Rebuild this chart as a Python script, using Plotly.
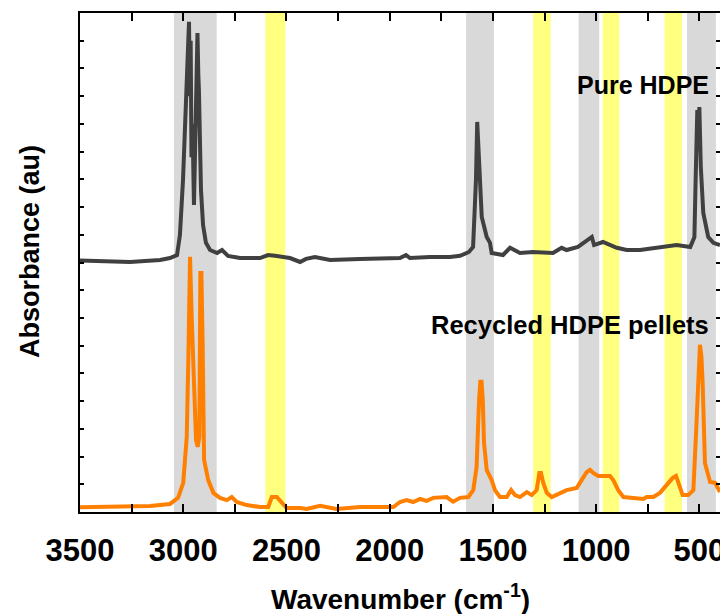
import plotly.graph_objects as go

# ---- data ----
pure_wn = [3500, 3403, 3258, 3112, 3064, 3030, 3016, 3001, 2987, 2978, 2972, 2968, 2964, 2960, 2955,
           2948, 2943, 2938, 2934, 2931, 2927, 2924, 2914, 2904, 2890, 2870, 2836, 2812, 2783, 2725,
           2628, 2589, 2555, 2483, 2434, 2405, 2362, 2289, 2144, 1950, 1921, 1902, 1805, 1708, 1659,
           1616, 1596, 1582, 1576, 1572, 1562, 1554, 1530, 1514, 1506, 1451, 1417, 1369, 1306, 1209,
           1167, 1143, 1088, 1046, 1021, 1010, 967, 900, 852, 787, 658, 610, 544, 524, 518, 510, 505,
           500, 493, 481, 457, 432, 400]
pure_abs = [90.7, 90.6, 90.2, 90.9, 91.6, 92.7, 99.9, 119.8, 152.3, 168.0, 176.8, 150.0, 170.0, 128.0, 140.0,
            110.8, 135.0, 148.6, 165.0, 172.8, 158.0, 152.3, 116.2, 103.5, 97.1, 94.5, 93.4, 94.5, 92.4, 91.6,
            91.6, 92.7, 92.4, 91.6, 90.2, 91.3, 92.0, 90.9, 91.3, 91.6, 92.7, 91.6, 92.0, 92.0, 92.4,
            93.8, 95.6, 119.8, 140.7, 133.0, 119.8, 106.4, 99.2, 97.1, 93.4, 92.7, 95.3, 93.4, 93.8, 93.4,
            95.3, 94.5, 95.6, 98.1, 99.2, 96.3, 97.4, 95.3, 94.5, 94.5, 95.6, 96.3, 95.6, 99.2, 119.8, 145.0, 138.0,
            146.1, 124.5, 107.9, 99.2, 97.1, 96.3]

rec_wn = [3500, 3403, 3258, 3161, 3064, 3025, 3000, 2983, 2975, 2967, 2959, 2951, 2938, 2930, 2922,
          2917, 2912, 2906, 2899, 2879, 2854, 2822, 2789, 2765, 2741, 2693, 2628, 2588, 2571, 2547, 2523,
          2499, 2434, 2402, 2337, 2257, 2144, 1982, 1950, 1918, 1886, 1853, 1821, 1789, 1724, 1693,
          1659, 1619, 1595, 1579, 1567, 1561, 1555, 1549, 1543, 1530, 1506, 1490, 1466, 1433, 1412, 1393,
          1369, 1336, 1312, 1288, 1275, 1267, 1256, 1239, 1215, 1175, 1143, 1094, 1070, 1046, 1030,
          1014, 990, 933, 917, 893, 868, 820, 771, 755, 723, 691, 658, 629, 613, 602, 581, 554, 529,
          516, 505, 497, 490, 484, 473, 448, 424, 400]
rec_abs = [1.7, 1.8, 2.2, 2.2, 2.9, 5.1, 10.5, 27.1, 55.9, 92.1, 70.4, 55.9, 26.0, 23.5, 27.1,
           86.2, 86.2, 61.0, 18.8, 11.5, 6.9, 5.1, 4.3, 5.4, 3.6, 2.5, 1.8, 1.8, 5.4, 5.4, 3.2,
           1.4, 1.4, 1.1, 2.2, 1.1, 1.8, 1.8, 3.6, 4.3, 3.6, 4.7, 4.0, 5.1, 5.4, 3.7,
           5.1, 5.4, 7.9, 16.2, 40.4, 47.0, 47.0, 40.4, 24.9, 15.2, 11.5, 7.9, 5.4, 5.4, 7.9, 6.1,
           5.4, 7.2, 6.1, 7.9, 14.1, 14.1, 10.5, 6.9, 5.4, 6.9, 7.9, 8.7, 11.5, 14.4, 15.2,
           14.1, 13.0, 13.0, 11.5, 7.9, 5.4, 5.1, 4.7, 5.4, 5.4, 6.9, 9.7, 12.3, 13.0, 10.5, 6.1, 6.1, 7.9,
           28.5, 47.6, 60.3, 56.0, 46.5, 17.7, 10.8, 10.5, 7.2]

gray_bands = [(3045, 2838), (1630, 1495), (1085, 985), (560, 420)]
yellow_bands = [(2602, 2505), (1305, 1220), (968, 888), (668, 584)]

FONT = "Liberation Sans, Arial"

fig = go.Figure()

shapes = []
for a, b in gray_bands:
    shapes.append(dict(type="rect", xref="x", yref="paper", x0=a, x1=b, y0=0, y1=1,
                       fillcolor="#D9D9D9", line=dict(width=0), layer="below"))
for a, b in yellow_bands:
    shapes.append(dict(type="rect", xref="x", yref="paper", x0=a, x1=b, y0=0, y1=1,
                       fillcolor="#FFFF80", line=dict(width=0), layer="below"))

fig.add_trace(go.Scatter(x=pure_wn, y=pure_abs, mode="lines",
                         line=dict(color="#404040", width=4), name="Pure HDPE"))
fig.add_trace(go.Scatter(x=rec_wn, y=rec_abs, mode="lines",
                         line=dict(color="#FF8000", width=4), name="Recycled HDPE pellets"))

# page has an 8px body margin; plot area on page: x 80..720, y 13..512
plot_w, plot_h = 640, 499
OFF = 8

fig.update_layout(
    width=728 - OFF, height=614 - OFF,
    margin=dict(l=80 - OFF, r=8, t=13 - OFF, b=102),
    plot_bgcolor="white", paper_bgcolor="white",
    showlegend=False,
    shapes=shapes,
    font=dict(family=FONT, color="black"),
    annotations=[
        dict(text="<b>Pure HDPE</b>", x=(711 - 80) / plot_w, y=(512 - 85) / plot_h,
             xref="paper", yref="paper", showarrow=False,
             xanchor="right", yanchor="middle", font=dict(size=25, family=FONT, color="black")),
        dict(text="<b>Recycled HDPE pellets</b>", x=(711 - 80) / plot_w, y=(512 - 325) / plot_h,
             xref="paper", yref="paper", showarrow=False, xanchor="right", yanchor="middle",
             font=dict(size=25.5, family=FONT, color="black")),
        dict(text="<b>Wavenumber (cm<sup>-1</sup>)</b>", x=(400 - 80) / plot_w, y=(512 - 597) / plot_h,
             xref="paper", yref="paper", showarrow=False, xanchor="center", yanchor="middle",
             font=dict(size=28, family=FONT, color="black")),
        dict(text="<b>Absorbance (au)</b>", x=(30 - 80) / plot_w, y=(512 - 252) / plot_h,
             xref="paper", yref="paper", showarrow=False, xanchor="center", yanchor="middle",
             textangle=-90, font=dict(size=27, family=FONT, color="black")),
    ],
)

fig.update_xaxes(
    range=[3500, 400], tick0=500, dtick=500,
    showline=True, linecolor="black", linewidth=2, mirror="ticks",
    ticks="inside", ticklen=8, tickwidth=2, tickcolor="black",
    minor=dict(dtick=250, tick0=500, ticks="inside", ticklen=8, tickwidth=2, tickcolor="black"),
    showgrid=False, zeroline=False, automargin=False,
    tickfont=dict(size=31, family=FONT, color="black", weight="bold"),
    ticklabelstandoff=10,
)
fig.update_yaxes(
    range=[0, 180], dtick=10, showticklabels=False,
    showline=True, linecolor="black", linewidth=2, mirror="ticks",
    ticks="inside", ticklen=4, tickwidth=1.5, tickcolor="black",
    showgrid=False, zeroline=False, automargin=False,
)

fig.write_html("out.html")
